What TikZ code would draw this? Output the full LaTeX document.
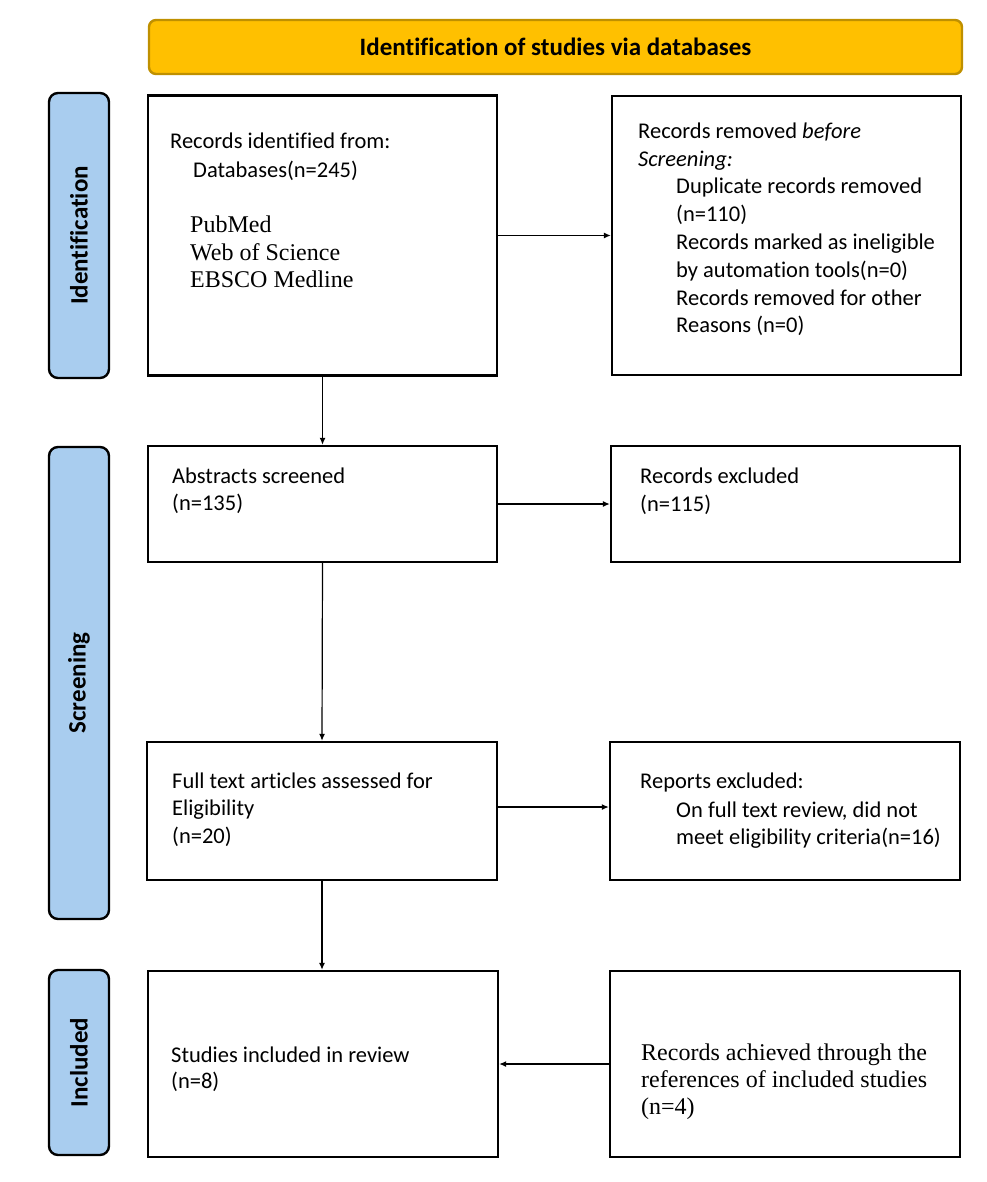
\documentclass[tikz,border=0pt]{standalone}
\usepackage{fontspec}
\setmainfont{Carlito}[Ligatures=NoCommon]
\newfontfamily\serifface{Liberation Serif}[Ligatures=NoCommon]
\usetikzlibrary{arrows.meta}
\definecolor{hdrfill}{HTML}{FFC000}
\definecolor{hdrline}{HTML}{BF9000}
\definecolor{barfill}{HTML}{A9CDEF}
\tikzset{
  box/.style={draw=black,line width=2.4pt,fill=white},
  hdr/.style={draw=hdrline,line width=2.4pt,fill=hdrfill,rounded corners=7pt},
  bar/.style={draw=black,line width=2.4pt,fill=barfill,rounded corners=9pt},
  txt/.style={anchor=base west,inner sep=0pt,font=\fontsize{22.5}{27}\selectfont},
  stxt/.style={anchor=base west,inner sep=0pt,font=\serifface\fontsize{24}{27}\selectfont},
  lbl/.style={inner sep=0pt,font=\bfseries\fontsize{25}{30}\selectfont},
  arr/.style={line width=1.2pt,-{Latex[length=7pt,width=6pt]}}
}
\begin{document}
\begin{tikzpicture}[x=1pt,y=-1pt]
\useasboundingbox (0,0) rectangle (986,1182);
% header
\draw[hdr] (149,20) rectangle (962,74);
\node[lbl] (hdrtext) at (555.5,47) {Identification of studies via databases};
% side bars
\draw[bar] (49,93) rectangle (109,378);
\node[lbl,rotate=90] (lid) at (79,235.5) {Identification};
\draw[bar] (49,447) rectangle (109,919);
\node[lbl,rotate=90] (lsc) at (79,683) {Screening};
\draw[bar] (49,970) rectangle (109,1155);
\node[lbl,rotate=90] (lin) at (79,1062.5) {Included};
% boxes
\node[box,minimum width=349pt,minimum height=280pt,inner sep=0pt] (b1) at (322.5,235.5) {};
\node[box,minimum width=349pt,minimum height=279pt,inner sep=0pt] (b2) at (786.5,235.5) {};
\node[box,minimum width=349pt,minimum height=116pt,inner sep=0pt] (b3) at (322.5,504) {};
\node[box,minimum width=349pt,minimum height=116pt,inner sep=0pt] (b4) at (785.5,504) {};
\node[box,minimum width=350pt,minimum height=138pt,inner sep=0pt] (b5) at (322,811) {};
\node[box,minimum width=350pt,minimum height=138pt,inner sep=0pt] (b6) at (785,811) {};
\node[box,minimum width=350pt,minimum height=186pt,inner sep=0pt] (b7) at (323,1064) {};
\node[box,minimum width=350pt,minimum height=186pt,inner sep=0pt] (b8) at (785,1064) {};
% box 1 text
\node[txt] (t1a) at (170,149) {Records identified from:};
\node[txt] (t1b) at (193,178) {Databases(n=245)};
\node[stxt] (t1c) at (190,233) {PubMed};
\node[stxt] (t1d) at (190,260) {Web of Science};
\node[stxt] (t1e) at (190,287) {EBSCO Medline};
% box 2 text
\node[txt] (t2a) at (638,139) {Records removed \emph{before}};
\node[txt] (t2b) at (638,167) {\emph{Screening:}};
\node[txt] (t2c) at (676,194) {Duplicate records removed};
\node[txt] (t2d) at (676,222) {(n=110)};
\node[txt] (t2e) at (676,250) {Records marked as ineligible};
\node[txt] (t2f) at (676,277) {by automation tools(n=0)};
\node[txt] (t2g) at (676,305) {Records removed for other};
\node[txt] (t2h) at (676,332) {Reasons (n=0)};
% box 3/4 text
\node[txt] (t3a) at (172,483) {Abstracts screened};
\node[txt] (t3b) at (172,510) {(n=135)};
\node[txt] (t4a) at (640,483) {Records excluded};
\node[txt] (t4b) at (640,511) {(n=115)};
% box 5/6 text
\node[txt] (t5a) at (172,788) {Full text articles assessed for};
\node[txt] (t5b) at (172,815) {Eligibility};
\node[txt] (t5c) at (172,843) {(n=20)};
\node[txt] (t6a) at (640,788) {Reports excluded:};
\node[txt] (t6b) at (676,817) {On full text review, did not};
\node[txt] (t6c) at (676,844) {meet eligibility criteria(n=16)};
% box 7/8 text
\node[txt] (t7a) at (171,1062) {Studies included in review};
\node[txt] (t7b) at (171,1088) {(n=8)};
\node[stxt] (t8a) at (641,1060) {Records achieved through the};
\node[stxt] (t8b) at (641,1087) {references of included studies};
\node[stxt] (t8c) at (641,1114) {(n=4)};
% arrows
\draw[arr] (b1.east) -- (b2.west);
\draw[arr] (b1.south) -- (b3.north);
\draw[arr] (b3.east) -- (b4.west);
\draw[arr] (b3.south) -- (b5.north);
\coordinate (a56) at ([yshift=4pt]b5.east);
\draw[arr] (a56) -- (a56 -| b6.west);
\draw[arr] (b5.south) -- (b5.south |- b7.north);
\draw[arr] (b8.west) -- (b7.east);
\end{tikzpicture}
\end{document}
